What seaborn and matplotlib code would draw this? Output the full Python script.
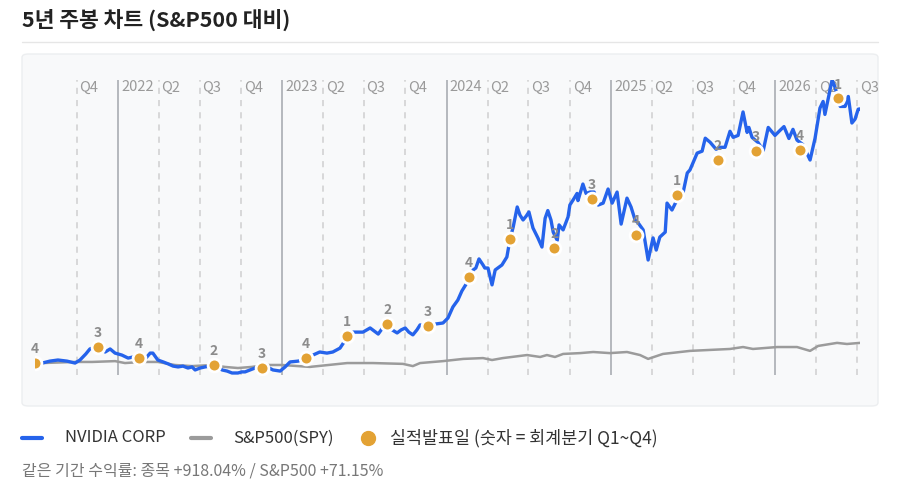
import numpy as np
import pandas as pd
import matplotlib
matplotlib.use("Agg")
import matplotlib.pyplot as plt
import matplotlib.dates as mdates
import seaborn as sns
from matplotlib.lines import Line2D
from matplotlib.patches import FancyBboxPatch

# ---------------- data (returns in %, days since start) ----------------
start_date = "2021-06-30"

nv_days = [0, 16, 33, 51, 71, 89, 100, 113, 122, 133, 140, 149, 156, 167, 178, 193, 207, 218, 231, 245,
           256, 262, 273, 285, 296, 307, 318, 329, 340, 349, 356, 367, 378, 389, 398, 407, 416, 427, 438, 451,
           460, 467, 478, 489, 505, 516, 529, 545, 556, 567, 585, 602, 618, 633, 649, 662, 678, 687, 693, 707,
           718, 729, 745, 754, 763, 774, 783, 794, 805, 814, 823, 831, 840, 849, 856, 874, 889, 907, 918, 929,
           940, 949, 960, 967, 974, 980, 987, 996, 1000, 1007, 1016, 1023, 1038, 1049, 1056, 1063, 1072, 1078,
           1085, 1092, 1098, 1107, 1118, 1127, 1134, 1140, 1147, 1152, 1161, 1165, 1174, 1185, 1189, 1198, 1205,
           1207, 1218, 1225, 1234, 1243, 1252, 1263, 1274, 1283, 1294, 1303, 1316, 1325, 1334, 1341, 1352, 1363,
           1374, 1381, 1389, 1401, 1405, 1416, 1427, 1441, 1450, 1456, 1472, 1483, 1490, 1501, 1514, 1523, 1534,
           1545, 1552, 1563, 1574, 1583, 1587, 1594, 1607, 1619, 1630, 1645, 1656, 1665, 1676, 1685, 1694, 1707,
           1723, 1734, 1745, 1752, 1756, 1765, 1772, 1779, 1790, 1801, 1808, 1816, 1823, 1830, 1834]
nv_ret = [-2, -2, 5, 9, 5, -2, 9, 31, 49, 56, 56, 45, 38, 49, 34, 27, 16, 20, 16, 13,
          34, 34, 9, 2, -5, -13, -16, -13, -20, -16, -27, -20, -16, -13, -9, -16, -27, -31, -38, -38,
          -34, -34, -27, -20, -20, -16, -27, -31, -16, 2, 5, 16, 27, 38, 34, 38, 52, 74, 96, 110,
          110, 110, 125, 114, 103, 128, 139, 118, 107, 118, 125, 110, 100, 118, 136, 132, 139, 143, 161, 201,
          226, 259, 288, 309, 335, 342, 375, 353, 342, 342, 281, 335, 353, 382, 447, 490, 563, 534,
          516, 530, 545, 487, 451, 418, 522, 550, 516, 472, 442, 498, 480, 527, 570, 593, 612,
          586, 646, 612, 617, 617, 570, 577, 628, 577, 617, 501, 595, 563, 516, 505, 480, 371,
          451, 407, 454, 472, 577, 552, 588, 617, 686, 697, 758, 765, 812, 797, 772, 779, 779,
          837, 815, 822, 907, 833, 851, 815, 797, 768, 851, 822, 840, 854, 811, 844, 805, 789,
          733, 811, 921, 945, 898, 968, 1023, 994, 927, 927, 963, 867, 881, 917, 918]

spy_days = [0, 16, 89, 127, 178, 200, 238, 273, 311, 349, 394, 422, 451, 482, 511, 549, 611, 694, 751, 818,
            840, 856, 907, 952, 996, 1016, 1040, 1094, 1123, 1138, 1156, 1174, 1212, 1241, 1278, 1316, 1345,
            1363, 1396, 1456, 1494, 1545, 1574, 1596, 1619, 1650, 1694, 1723, 1741, 1783, 1805, 1834]
spy_ret = [-2, -2, 2, 2, 5, -2, 2, 2, -9, -13, -9, -16, -20, -16, -9, -9, -16, -2, -2, -5,
           -13, -2, 5, 13, 16, 9, 16, 27, 20, 27, 20, 31, 34, 38, 34, 38, 27,
           13, 31, 42, 45, 49, 56, 49, 52, 56, 56, 42, 60, 71, 67, 71]

earn_days = [0, 140, 231, 398, 505, 602, 694, 783, 874, 965, 1056, 1154, 1238, 1336, 1427, 1518, 1603, 1701, 1785]
earn_ret = [-2, 56, 16, -9, -20, 16, 96, 139, 132, 310, 447, 414, 592, 462, 606, 733, 765, 768, 956]
earn_q = ["4", "3", "4", "2", "3", "4", "1", "2", "3", "4", "1", "2", "3", "4", "1", "2", "3", "4", "1"]

period_dates = ["2021-10-01", "2022-01-01", "2022-04-01", "2022-07-01", "2022-10-01",
                "2023-01-01", "2023-04-01", "2023-07-01", "2023-10-01",
                "2024-01-01", "2024-04-01", "2024-07-01", "2024-10-01",
                "2025-01-01", "2025-04-01", "2025-07-01", "2025-10-01",
                "2026-01-01", "2026-04-01", "2026-07-01"]
period_labels = ["Q4", "2022", "Q2", "Q3", "Q4", "2023", "Q2", "Q3", "Q4",
                 "2024", "Q2", "Q3", "Q4", "2025", "Q2", "Q3", "Q4", "2026", "Q2", "Q3"]

title = "5년 주봉 차트 (S&P500 대비)"
legend_labels = ["NVIDIA CORP", "S&P500(SPY)", "실적발표일 (숫자 = 회계분기 Q1~Q4)"]
footer = "같은 기간 수익률: 종목 +918.04% / S&P500 +71.15%"

# ---------------- styling ----------------
sns.set_theme(style="white")
plt.rcParams["font.family"] = ["Noto Sans CJK KR", "DejaVu Sans"]

BLUE = "#2563EB"
GRAY = "#9B9B9B"
ORANGE = "#E3A234"

W, H = 903, 492
fig = plt.figure(figsize=(W / 100, H / 100), dpi=100)
fig.patch.set_facecolor("white")

def fx(px):
    return px / W

def fy(py):
    return 1 - py / H

# title + separator
fig.text(fx(22), fy(20), title, fontsize=15.5, fontweight="bold", color="#222222",
         va="center", ha="left")
fig.add_artist(Line2D([fx(22), fx(878)], [fy(42), fy(42)], color="#e6e6e6", lw=1))

# panel
panel = FancyBboxPatch((fx(22), fy(406)), fx(856), (406 - 54) / H,
                       boxstyle="round,pad=0,rounding_size=0.007",
                       transform=fig.transFigure, facecolor="#f8f9fa",
                       edgecolor="#eceef0", lw=1, zorder=0)
fig.add_artist(panel)

# axes
ax = fig.add_axes([fx(35), fy(375), fx(825), 295 / H])
ax.set_facecolor("none")
start = pd.Timestamp(start_date)

nv = pd.DataFrame({"date": start + pd.to_timedelta(nv_days, unit="D"), "ret": nv_ret})
spy = pd.DataFrame({"date": start + pd.to_timedelta(spy_days, unit="D"), "ret": spy_ret})
earn = pd.DataFrame({"date": start + pd.to_timedelta(earn_days, unit="D"), "ret": earn_ret, "q": earn_q})

sns.lineplot(data=spy, x="date", y="ret", ax=ax, color=GRAY, lw=1.8, zorder=3)
sns.lineplot(data=nv, x="date", y="ret", ax=ax, color=BLUE, lw=2.4, zorder=4)
sns.scatterplot(data=earn, x="date", y="ret", ax=ax, color=ORANGE, s=85,
                edgecolor="white", linewidth=2, zorder=5)

# period lines
xt = ax.get_xaxis_transform()
for d, lab in zip(period_dates, period_labels):
    dn = mdates.date2num(pd.Timestamp(d))
    if lab.startswith("Q"):
        ax.axvline(dn, color="#cfcfcf", lw=1.1, ls=(0, (4, 4)), zorder=1)
    else:
        ax.axvline(dn, color="#b5b8bd", lw=1.4, zorder=1)
    ax.annotate(lab, xy=(dn, 0.975), xycoords=xt, xytext=(2, 0), textcoords="offset points",
                fontsize=10.5, color="#9a9a9a", va="center", ha="left", zorder=2)

for d, r, q in zip(earn["date"], earn["ret"], earn["q"]):
    ax.annotate(q, xy=(mdates.date2num(d), r), xytext=(0, 10), textcoords="offset points",
                ha="center", va="center", fontsize=10, fontweight="bold",
                color="#8c8c8c", zorder=6)

ax.set_xlim(mdates.date2num(start), mdates.date2num(start + pd.Timedelta(days=1834)))
ax.set_ylim(-45.25, 1022.65)
ax.set_xlabel("")
ax.set_ylabel("")
ax.set_xticks([])
ax.set_yticks([])
for s in ax.spines.values():
    s.set_visible(False)

# legend
ly = fy(438)
fig.add_artist(Line2D([fx(22), fx(42)], [ly, ly], color=BLUE, lw=3, solid_capstyle="round"))
fig.text(fx(65), ly, legend_labels[0], fontsize=12, color="#333333", va="center", ha="left")
fig.add_artist(Line2D([fx(191), fx(211)], [ly, ly], color=GRAY, lw=3, solid_capstyle="round"))
fig.text(fx(233), ly, legend_labels[1], fontsize=12, color="#333333", va="center", ha="left")
fig.add_artist(Line2D([fx(368)], [ly], marker="o", markersize=10, color=ORANGE, lw=0))
fig.text(fx(390), ly, legend_labels[2], fontsize=12.5, color="#333333", va="center", ha="left")

fig.text(fx(22), fy(471), footer, fontsize=11.5, color="#777777", va="center", ha="left")

fig.savefig("out.png", dpi=100, facecolor="white")
